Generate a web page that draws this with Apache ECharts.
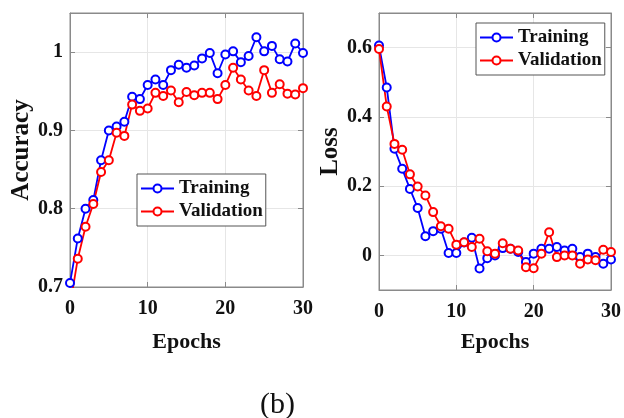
<!DOCTYPE html>
<html><head><meta charset="utf-8">
<script src="https://cdn.jsdelivr.net/npm/echarts@6/dist/echarts.min.js"></script>
<style>html,body{margin:0;padding:0;background:#fff}#c{width:624px;height:418px}</style>
</head><body><div id="c"></div>
<script>
const epochs = [0,1,2,3,4,5,6,7,8,9,10,11,12,13,14,15,16,17,18,19,20,21,22,23,24,25,26,27,28,29,30];
const trainAcc = [0.705,0.762,0.800,0.811,0.862,0.900,0.905,0.911,0.943,0.940,0.958,0.965,0.958,0.977,0.984,0.980,0.983,0.992,0.999,0.973,0.997,1.001,0.987,0.995,1.019,1.001,1.008,0.991,0.988,1.011,0.999];
const valAcc = [0.676,0.736,0.777,0.806,0.847,0.862,0.897,0.893,0.933,0.925,0.928,0.948,0.944,0.951,0.936,0.949,0.945,0.948,0.948,0.940,0.958,0.980,0.965,0.951,0.944,0.977,0.948,0.959,0.947,0.946,0.954];
const trainLoss = [0.606,0.485,0.308,0.250,0.192,0.137,0.055,0.070,0.077,0.007,0.007,0.037,0.051,-0.038,-0.008,0.000,0.021,0.019,0.010,-0.019,0.005,0.019,0.019,0.024,0.014,0.019,-0.005,0.005,-0.005,-0.024,-0.012];
const valLoss = [0.596,0.430,0.322,0.305,0.234,0.199,0.173,0.125,0.084,0.077,0.031,0.038,0.024,0.048,0.012,0.005,0.035,0.019,0.014,-0.034,-0.037,0.005,0.067,-0.005,0.000,0.000,-0.024,-0.012,-0.014,0.016,0.010];
const accTicks = [0.7,0.8,0.9,1];
const lossTicks = [0,0.2,0.4,0.6];
const epochTicks = [0,10,20,30];
const seriesNames = ['Training','Validation'];

const serif = '"Liberation Serif","Times New Roman",serif';
const gridCol = '#e6e6e6';
const boxCol = '#8a8a8a';
const txtCol = '#111';
const fmt = v => String(Math.round(v*10)/10);

function xAx(gi, nameGap){
  return [{
    type:'value', gridIndex:gi, min:0, max:30, interval:10,
    name:'Epochs', nameLocation:'middle', nameGap:nameGap,
    nameTextStyle:{fontFamily:serif,fontWeight:'bold',fontSize:22,color:txtCol},
    axisLine:{show:true,onZero:false,lineStyle:{color:boxCol,width:1}},
    axisTick:{show:true,inside:true,length:5,lineStyle:{color:boxCol},customValues:epochTicks},
    axisLabel:{fontFamily:serif,fontWeight:'bold',fontSize:20,color:txtCol,margin:12,customValues:epochTicks,formatter:v=>String(v)},
    splitLine:{show:true,lineStyle:{color:gridCol,width:1}}
  },{
    type:'value', gridIndex:gi, position:'top', min:0, max:30, interval:10,
    axisLine:{show:true,onZero:false,lineStyle:{color:boxCol,width:1}},
    axisTick:{show:true,inside:true,length:5,lineStyle:{color:boxCol},customValues:epochTicks},
    axisLabel:{show:false,customValues:epochTicks}, splitLine:{show:false}
  }];
}
function yAx(gi, name, min, max, ticks, nameGap){
  return [{
    type:'value', gridIndex:gi, min:min, max:max,
    name:name, nameLocation:'middle', nameGap:nameGap, nameRotate:90,
    nameTextStyle:{fontFamily:serif,fontWeight:'bold',fontSize:25,color:txtCol},
    axisLine:{show:true,onZero:false,lineStyle:{color:boxCol,width:1}},
    axisTick:{show:true,inside:true,length:5,lineStyle:{color:boxCol},customValues:ticks},
    axisLabel:{fontFamily:serif,fontWeight:'bold',fontSize:20,color:txtCol,margin:7,customValues:ticks,formatter:fmt},
    splitLine:{show:true,lineStyle:{color:gridCol,width:1}}
  },{
    type:'value', gridIndex:gi, position:'right', min:min, max:max,
    axisLine:{show:true,onZero:false,lineStyle:{color:boxCol,width:1}},
    axisTick:{show:true,inside:true,length:5,lineStyle:{color:boxCol},customValues:ticks},
    axisLabel:{show:false,customValues:ticks}, splitLine:{show:false}
  }];
}
function ser(name, data, color, xi, yi){
  return {
    type:'line', name:name, xAxisIndex:xi, yAxisIndex:yi,
    data: epochs.map((e,i)=>[e,data[i]]),
    symbol:'emptyCircle', symbolSize:8, showAllSymbol:true, clip:true,
    lineStyle:{color:color,width:1.8}, itemStyle:{color:color,borderColor:color,borderWidth:1.8},
    emphasis:{disabled:true}, animation:false
  };
}
function legend(left, top){
  return {
    show:true, orient:'vertical', left:left, top:top,
    data: seriesNames.slice(),
    selectedMode:false,
    itemWidth:33, itemHeight:10, itemGap:4,
    padding:[5,3,5,3],
    backgroundColor:'#fff', borderColor:'#555', borderWidth:1,
    textStyle:{fontFamily:serif,fontWeight:'bold',fontSize:19,color:txtCol}
  };
}

const chart = echarts.init(document.getElementById('c'), null, {renderer:'canvas'});
const xs = [...xAx(0,44), ...xAx(1,41)];
const ys = [...yAx(0,'Accuracy',0.7,1.05,accTicks,33), ...yAx(1,'Loss',-0.1,0.7,lossTicks,35)];
chart.setOption({
  animation:false,
  backgroundColor:'#fff',
  title:{text:'(b)', left:255, top:385, textStyle:{fontFamily:serif,fontWeight:'normal',fontSize:30,color:txtCol}},
  grid:[
    {left:70, top:13, width:233, height:274, show:true, borderColor:boxCol, borderWidth:1, backgroundColor:'transparent'},
    {left:379, top:13, width:233, height:277, show:true, borderColor:boxCol, borderWidth:1, backgroundColor:'transparent'}
  ],
  xAxis: xs,
  yAxis: ys,
  legend:[ legend(137,174), legend(476,23) ],
  series:[
    ser(seriesNames[0], trainAcc, '#0000ff', 0, 0),
    ser(seriesNames[1], valAcc, '#ff0000', 0, 0),
    ser(seriesNames[0], trainLoss, '#0000ff', 2, 2),
    ser(seriesNames[1], valLoss, '#ff0000', 2, 2)
  ]
});
</script></body></html>
